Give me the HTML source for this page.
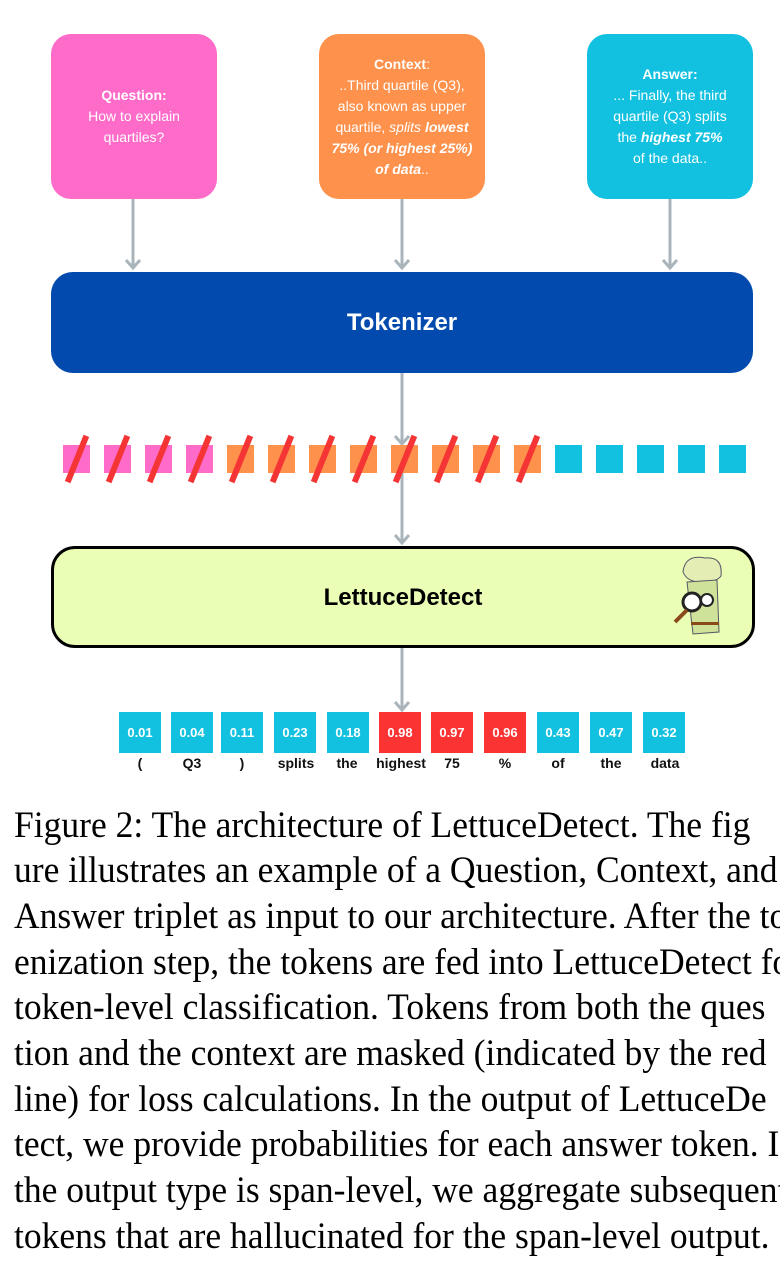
<!DOCTYPE html>
<html><head><meta charset="utf-8"><style>
body{margin:0;width:780px;height:1274px;background:#fff;position:relative;overflow:hidden;font-family:"Liberation Sans",sans-serif}
.b{position:absolute;border-radius:20px;color:#fff;text-align:center;font-size:14px;line-height:21px;display:flex;align-items:center;justify-content:center;flex-direction:column}
.sq{position:absolute;width:27px;height:28px;top:445px}
.sl{position:absolute;width:6px;height:50px;background:#f53535;top:434px;transform:rotate(22deg)}
.tk{position:absolute;top:712px;width:42px;height:41px;color:#fff;font-size:13px;font-weight:bold;display:flex;align-items:center;justify-content:center}
.lb{position:absolute;top:755px;width:60px;text-align:center;font-size:14px;font-weight:bold;color:#111}
.cap{position:absolute;left:14px;font-family:"Liberation Serif",serif;font-size:37px;line-height:40px;white-space:nowrap;color:#000;transform-origin:0 0;transform:scaleX(0.96)}
</style></head><body>
<div class="b" style="left:51px;top:34px;width:166px;height:165px;background:#fe6bc8"><b>Question:</b>How to explain<br>quartiles?</div>
<div class="b" style="left:319px;top:34px;width:166px;height:165px;background:#fe914b"><div><b>Context</b>:<br>..Third quartile (Q3),<br>also known as upper<br>quartile, <i>splits <b>lowest<br>75% (or highest 25%)<br>of data</b></i>..</div></div>
<div class="b" style="left:587px;top:34px;width:166px;height:165px;background:#12c1e0"><div><b>Answer:</b><br>... Finally, the third<br>quartile (Q3) splits<br>the <b><i>highest 75%</i></b><br>of the data..</div></div>
<svg style="position:absolute;left:0;top:0" width="780" height="720">
<g stroke="#a9b4bb" stroke-width="3" fill="none">
<line x1="133" y1="199" x2="133" y2="268"/><polyline points="126,260 133,268 140,260"/>
<line x1="402" y1="199" x2="402" y2="268"/><polyline points="395,260 402,268 409,260"/>
<line x1="670" y1="199" x2="670" y2="268"/><polyline points="663,260 670,268 677,260"/>
<line x1="402" y1="373" x2="402" y2="444"/><polyline points="395,436 402,444 409,436"/>
<line x1="402" y1="473" x2="402" y2="543"/><polyline points="395,535 402,543 409,535"/>
<line x1="402" y1="646" x2="402" y2="710"/><polyline points="395,702 402,710 409,702"/>
</g></svg>
<div class="b" style="left:51px;top:272px;width:702px;height:101px;background:#024aad;font-size:24px;font-weight:bold;border-radius:22px">Tokenizer</div>
<div class="b" style="left:51px;top:546px;width:698px;height:96px;background:#eaffb5;border:3px solid #000;color:#000;font-size:24px;font-weight:bold;border-radius:24px">LettuceDetect</div>
<svg style="position:absolute;left:665px;top:552px" width="70" height="92">
<path d="M18 20 Q20 2 40 6 Q58 4 56 24 Q52 30 36 30 Q22 30 18 20Z" fill="#e4edb4" stroke="#556" stroke-width="1"/>
<path d="M22 30 L52 28 L54 80 L28 82Z" fill="#cfe29a" stroke="#556" stroke-width="1"/>
<circle cx="27" cy="50" r="9" fill="#fff" stroke="#222" stroke-width="3"/>
<circle cx="42" cy="48" r="6" fill="#fff" stroke="#222" stroke-width="2"/>
<line x1="22" y1="58" x2="10" y2="70" stroke="#8a4a1a" stroke-width="4"/>
<rect x="26" y="70" width="28" height="3" fill="#8a4a1a"/>
</svg>
<div class="sq" style="left:63px;background:#fe6bc8"></div><div class="sq" style="left:104px;background:#fe6bc8"></div><div class="sq" style="left:145px;background:#fe6bc8"></div><div class="sq" style="left:186px;background:#fe6bc8"></div>
<div class="sq" style="left:227px;background:#fe914b"></div><div class="sq" style="left:268px;background:#fe914b"></div><div class="sq" style="left:309px;background:#fe914b"></div><div class="sq" style="left:350px;background:#fe914b"></div><div class="sq" style="left:391px;background:#fe914b"></div><div class="sq" style="left:432px;background:#fe914b"></div><div class="sq" style="left:473px;background:#fe914b"></div><div class="sq" style="left:514px;background:#fe914b"></div>
<div class="sq" style="left:555px;background:#12c1e0"></div><div class="sq" style="left:596px;background:#12c1e0"></div><div class="sq" style="left:637px;background:#12c1e0"></div><div class="sq" style="left:678px;background:#12c1e0"></div><div class="sq" style="left:719px;background:#12c1e0"></div>
<div class="sl" style="left:74px"></div><div class="sl" style="left:115px"></div><div class="sl" style="left:156px"></div><div class="sl" style="left:197px"></div><div class="sl" style="left:238px"></div><div class="sl" style="left:279px"></div><div class="sl" style="left:320px"></div><div class="sl" style="left:361px"></div><div class="sl" style="left:402px"></div><div class="sl" style="left:443px"></div><div class="sl" style="left:484px"></div><div class="sl" style="left:525px"></div>
<div class="tk" style="left:119px;background:#12c1e0">0.01</div><div class="tk" style="left:171px;background:#12c1e0">0.04</div><div class="tk" style="left:221px;background:#12c1e0">0.11</div><div class="tk" style="left:274px;background:#12c1e0">0.23</div><div class="tk" style="left:327px;background:#12c1e0">0.18</div><div class="tk" style="left:379px;background:#fb3333">0.98</div><div class="tk" style="left:431px;background:#fb3333">0.97</div><div class="tk" style="left:484px;background:#fb3333">0.96</div><div class="tk" style="left:537px;background:#12c1e0">0.43</div><div class="tk" style="left:590px;background:#12c1e0">0.47</div><div class="tk" style="left:643px;background:#12c1e0">0.32</div>
<div class="lb" style="left:110px">(</div><div class="lb" style="left:162px">Q3</div><div class="lb" style="left:212px">)</div><div class="lb" style="left:266px">splits</div><div class="lb" style="left:317px">the</div><div class="lb" style="left:371px">highest</div><div class="lb" style="left:422px">75</div><div class="lb" style="left:475px">%</div><div class="lb" style="left:528px">of</div><div class="lb" style="left:581px">the</div><div class="lb" style="left:635px">data</div>
<div class="cap" style="top:806px">Figure 2: The architecture of LettuceDetect. The fig</div>
<div class="cap" style="top:851px">ure illustrates an example of a Question, Context, and</div>
<div class="cap" style="top:897px">Answer triplet as input to our architecture. After the tok</div>
<div class="cap" style="top:943px">enization step, the tokens are fed into LettuceDetect for</div>
<div class="cap" style="top:988px">token-level classification. Tokens from both the ques</div>
<div class="cap" style="top:1034px">tion and the context are masked (indicated by the red</div>
<div class="cap" style="top:1080px">line) for loss calculations. In the output of LettuceDe</div>
<div class="cap" style="top:1125px">tect, we provide probabilities for each answer token. If</div>
<div class="cap" style="top:1171px">the output type is span-level, we aggregate subsequent</div>
<div class="cap" style="top:1217px">tokens that are hallucinated for the span-level output.</div>
</body></html>
